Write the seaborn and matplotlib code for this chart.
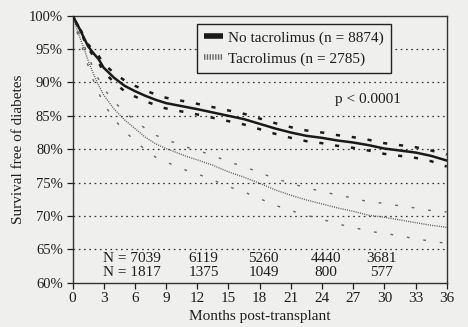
import numpy as np
import pandas as pd
import matplotlib
matplotlib.use("Agg")
import matplotlib.pyplot as plt
from matplotlib.lines import Line2D
import seaborn as sns

# data (Kaplan-Meier, % free of diabetes)
months = [0, 0.5, 1, 1.5, 2, 2.5, 3, 4, 5, 6, 7, 8, 9, 10, 11, 12, 13.5, 15, 16.5,
          18, 19.5, 21, 22.5, 24, 25.5, 27, 28.5, 30, 31.5, 33, 34.5, 36]

no_tac = [100, 98.6, 97.0, 95.4, 94.4, 93.5, 92.2, 90.7, 89.5, 88.7, 88.0, 87.4, 86.9,
          86.6, 86.3, 86.0, 85.5, 85.0, 84.5, 83.8, 83.1, 82.5, 82.0, 81.7, 81.3, 81.0,
          80.6, 80.1, 79.8, 79.5, 79.0, 78.3]
no_tac_hi = [100, 98.7, 97.2, 95.7, 94.8, 94.0, 92.8, 91.4, 90.3, 89.5, 88.8, 88.2, 87.7,
             87.4, 87.1, 86.8, 86.3, 85.8, 85.3, 84.6, 83.9, 83.3, 82.8, 82.5, 82.1, 81.8,
             81.4, 80.9, 80.6, 80.3, 79.8, 79.2]
no_tac_lo = [100, 98.5, 96.8, 95.1, 94.0, 93.0, 91.6, 90.0, 88.7, 87.9, 87.2, 86.6, 86.1,
             85.8, 85.5, 85.2, 84.7, 84.2, 83.7, 83.0, 82.3, 81.7, 81.2, 80.9, 80.5, 80.2,
             79.8, 79.3, 79.0, 78.7, 78.2, 77.4]

tac = [100, 97.6, 95.5, 93.3, 91.3, 89.6, 88.1, 86.0, 84.4, 83.1, 81.8, 80.8, 80.1,
       79.5, 78.9, 78.4, 77.6, 76.6, 75.8, 74.9, 73.9, 73.1, 72.4, 71.8, 71.2, 70.7,
       70.1, 69.8, 69.4, 69.0, 68.6, 68.3]
tac_hi = [100, 97.9, 96.0, 94.0, 92.1, 90.5, 89.1, 87.1, 85.6, 84.3, 83.1, 82.1, 81.4,
          80.9, 80.3, 79.8, 79.1, 78.1, 77.4, 76.5, 75.6, 74.9, 74.2, 73.7, 73.1, 72.7,
          72.1, 71.9, 71.5, 71.2, 70.8, 70.6]
tac_lo = [100, 97.2, 94.9, 92.5, 90.3, 88.5, 86.8, 84.5, 82.7, 81.3, 79.9, 78.8, 78.1,
          77.4, 76.8, 76.3, 75.4, 74.4, 73.6, 72.6, 71.6, 70.8, 70.1, 69.5, 68.8, 68.3,
          67.7, 67.4, 67.0, 66.6, 66.2, 65.9]

risk_months = [5.7, 12.6, 18.4, 24.4, 29.7]
risk_no_tac = ["N = 7039", "6119", "5260", "4440", "3681"]
risk_tac = ["N = 1817", "1375", "1049", "800", "577"]

df = pd.DataFrame({"month": months, "no_tac": no_tac, "no_tac_hi": no_tac_hi,
                   "no_tac_lo": no_tac_lo, "tac": tac, "tac_hi": tac_hi, "tac_lo": tac_lo})

sns.set_style("ticks")
bg = "#efefed"
ink = "#1e1e1e"
plt.rcParams["font.family"] = ["Liberation Serif", "DejaVu Serif"]
plt.rcParams["lines.scale_dashes"] = False
plt.rcParams["text.color"] = ink
plt.rcParams["axes.labelcolor"] = ink
plt.rcParams["xtick.color"] = ink
plt.rcParams["ytick.color"] = ink

fig = plt.figure(figsize=(4.68, 3.27), dpi=100, facecolor=bg)
ax = fig.add_axes([0.155, 0.1355, 0.7995, 0.8165], facecolor=bg)

# horizontal dotted grid
for g in [65, 70, 75, 80, 85, 90, 95]:
    ax.axhline(g, color="#333333", lw=0.9, ls=(0, (1.2, 2.6)), zorder=1)

# tacrolimus: fine dotted line and sparse CI marks
sns.lineplot(data=df, x="month", y="tac", ax=ax, color="#555555", lw=1.0,
             ls=(0, (0.7, 0.9)), zorder=3)
sns.lineplot(data=df, x="month", y="tac_hi", ax=ax, color="#666666", lw=1.0,
             ls=(0, (2, 10)), zorder=3)
sns.lineplot(data=df, x="month", y="tac_lo", ax=ax, color="#666666", lw=1.0,
             ls=(0, (2, 10)), zorder=3)

# no tacrolimus: solid line with short thick dashes for the CI
sns.lineplot(data=df, x="month", y="no_tac", ax=ax, color="#1a1a1a", lw=1.8, zorder=4)
sns.lineplot(data=df, x="month", y="no_tac_hi", ax=ax, color="#1a1a1a", lw=1.8,
             ls=(0, (3, 8.5)), zorder=4)
sns.lineplot(data=df, x="month", y="no_tac_lo", ax=ax, color="#1a1a1a", lw=1.8,
             ls=(6, (3, 8.5)), zorder=4)

ax.set_xlim(0, 36)
ax.set_ylim(60, 100)
ax.set_xticks(range(0, 37, 3))
ax.set_yticks(range(60, 101, 5))
ax.set_yticklabels([f"{v}%" for v in range(60, 101, 5)])
ax.tick_params(axis="x", labelsize=11, length=4, width=0.9, direction="out", pad=3)
ax.tick_params(axis="y", labelsize=10.5, length=4, width=0.9, direction="out", pad=3)
ax.set_xlabel("Months post-transplant", fontsize=11, labelpad=3)
ax.set_ylabel("Survival free of diabetes", fontsize=11, labelpad=3)
for s in ax.spines.values():
    s.set_visible(True)
    s.set_color("#333333")
    s.set_linewidth(1.0)

# numbers at risk
for m, a, b in zip(risk_months, risk_no_tac, risk_tac):
    ax.text(m, 63.6, a, ha="center", va="center", fontsize=11)
    ax.text(m, 61.5, b, ha="center", va="center", fontsize=11)

ax.text(28.4, 87.4, "p < 0.0001", ha="center", va="center", fontsize=11)

handles = [Line2D([], [], color="#1a1a1a", lw=4, solid_capstyle="butt"),
           Line2D([], [], color="#666666", lw=4, ls=(0, (1, 1)), dash_capstyle="butt")]
leg = ax.legend(handles, ["No tacrolimus (n = 8874)", "Tacrolimus (n = 2785)"],
                loc="upper left", bbox_to_anchor=(0.332, 0.968), borderaxespad=0,
                fontsize=11, frameon=True, fancybox=False, handlelength=1.3,
                handletextpad=0.3, borderpad=0.45, labelspacing=0.45)
leg.get_frame().set_edgecolor("#222222")
leg.get_frame().set_linewidth(1.0)
leg.get_frame().set_facecolor(bg)
leg.get_frame().set_alpha(1)

fig.savefig("out.png", dpi=100, facecolor=bg)
